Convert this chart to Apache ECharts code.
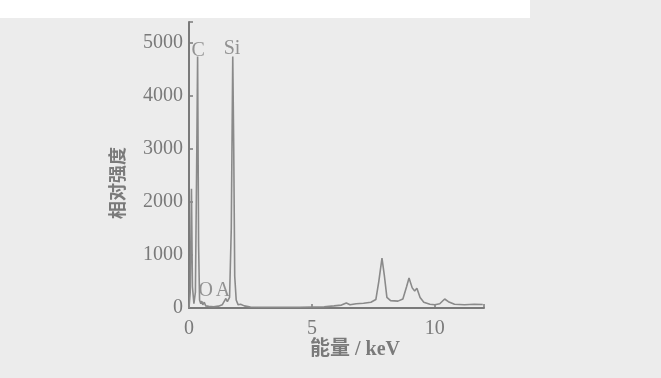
<!DOCTYPE html>
<html><head><meta charset="utf-8">
<script src="https://cdn.jsdelivr.net/npm/echarts@6/dist/echarts.min.js"></script>
<style>html,body{margin:0;padding:0;background:#ececec}#c{width:661px;height:378px}</style>
</head><body><div id="c"></div>
<script>
// Energy (keV) and relative intensity
const energy = [0.00,0.05,0.10,0.14,0.20,0.26,0.31,0.35,0.39,0.43,0.48,0.52,0.56,0.62,0.68,0.80,1.00,1.20,1.35,1.45,1.50,1.56,1.65,1.72,1.78,1.82,1.86,1.92,2.00,2.10,2.16,2.25,2.50,3.00,3.50,4.00,4.50,5.00,5.50,5.90,6.20,6.40,6.55,6.80,7.10,7.40,7.60,7.72,7.85,7.95,8.05,8.20,8.50,8.70,8.85,8.95,9.08,9.18,9.27,9.40,9.55,9.80,10.00,10.20,10.40,10.45,10.55,10.80,11.20,11.60,11.95];
const counts = [0,300,2250,400,80,300,2600,4750,1200,150,80,130,60,110,40,30,25,35,60,140,180,120,200,1500,4750,3000,600,150,60,70,85,40,20,15,15,15,15,20,25,40,55,95,60,80,90,110,160,500,940,600,200,140,130,170,400,565,380,320,375,200,110,70,60,80,170,190,120,70,60,70,65];
const yTicks = [0,1000,2000,3000,4000,5000];
const xTicks = [0,5,10];
const peakNames = ['C','Si','O','A'];
const peakX = [0.37,1.75,0.68,1.38];
const peakY = [4860,4900,320,320];
const xTitle = '能量 / keV';
const yTitle = '相对强度';

const chart = echarts.init(document.getElementById('c'));
const grey = '#7a7a7a';
const serif = "'Liberation Serif','DejaVu Serif','Noto Sans CJK SC',serif";
chart.setOption({
  backgroundColor: '#ececec',
  animation: false,
  graphic: [
    {type:'rect', shape:{x:0,y:0,width:530,height:18}, style:{fill:'#ffffff'}, z:-10},
    {type:'text', x:355, y:350, style:{text:xTitle, font:"bold 20px "+serif, fill:grey, align:'center', verticalAlign:'middle'}},
    {type:'text', x:119, y:183, rotation:Math.PI/2, style:{text:yTitle, font:"bold 18px "+serif, fill:grey, align:'center', verticalAlign:'middle'}}
  ],
  grid: {left:189, right:177, top:22, bottom:70},
  xAxis: {
    type:'value', min:0, max:12, interval:5,
    axisLine:{lineStyle:{color:grey, width:2}},
    axisTick:{inside:true, length:4, lineStyle:{color:grey, width:1.5}},
    splitLine:{show:false},
    axisLabel:{color:grey, fontSize:20, fontFamily:serif, margin:11,
      formatter: v => xTicks.includes(v) ? String(v) : ''}
  },
  yAxis: {
    type:'value', min:0, max:5400, interval:1000,
    axisLine:{show:true, lineStyle:{color:grey, width:2}},
    axisTick:{show:true, inside:true, length:4, lineStyle:{color:grey, width:1.5}},
    splitLine:{show:false},
    axisLabel:{color:grey, fontSize:20, fontFamily:serif, margin:6,
      formatter: v => yTicks.includes(v) ? String(v) : ''}
  },
  series: [
    {type:'line', data: energy.map((e,i)=>[e,counts[i]]), symbol:'none',
     lineStyle:{color:'#8a8a8a', width:1.6}},
    {type:'scatter', symbolSize:0, data: peakNames.map((n,i)=>({name:n, value:[peakX[i],peakY[i]]})),
     label:{show:true, formatter:p=>p.name, color:grey, fontSize:20, fontFamily:serif, position:'inside'}}
  ]
});
</script></body></html>
